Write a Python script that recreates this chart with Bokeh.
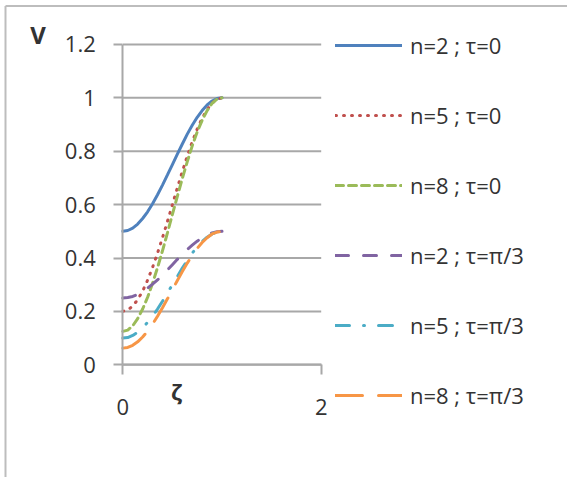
from bokeh.plotting import figure
from bokeh.models import Range1d, FixedTicker, Legend, LegendItem, Label
from bokeh.embed import file_html
from bokeh.resources import INLINE

zeta = [0.0, 0.05, 0.1, 0.15, 0.2, 0.25, 0.3, 0.35, 0.4, 0.45, 0.5,
        0.55, 0.6, 0.65, 0.7, 0.75, 0.8, 0.85, 0.9, 0.95, 1.0]

v_n2_t0 = [0.500, 0.503, 0.512, 0.527, 0.548, 0.573, 0.603, 0.637, 0.673, 0.711, 0.750,
           0.789, 0.827, 0.864, 0.897, 0.927, 0.952, 0.973, 0.988, 0.997, 1.000]
v_n5_t0 = [0.200, 0.205, 0.220, 0.244, 0.276, 0.317, 0.365, 0.418, 0.476, 0.537, 0.600,
           0.663, 0.724, 0.782, 0.835, 0.883, 0.924, 0.956, 0.980, 0.995, 1.000]
v_n8_t0 = [0.125, 0.130, 0.146, 0.173, 0.209, 0.253, 0.305, 0.364, 0.427, 0.494, 0.563,
           0.631, 0.698, 0.761, 0.820, 0.872, 0.916, 0.952, 0.979, 0.995, 1.000]
v_n2_t3 = [0.250, 0.252, 0.256, 0.264, 0.274, 0.287, 0.302, 0.318, 0.336, 0.355, 0.375,
           0.395, 0.414, 0.432, 0.448, 0.463, 0.476, 0.486, 0.494, 0.498, 0.500]
v_n5_t3 = [0.100, 0.102, 0.110, 0.122, 0.138, 0.159, 0.182, 0.209, 0.238, 0.269, 0.300,
           0.331, 0.362, 0.391, 0.418, 0.442, 0.462, 0.478, 0.490, 0.498, 0.500]
v_n8_t3 = [0.0625, 0.065, 0.073, 0.086, 0.104, 0.126, 0.152, 0.182, 0.214, 0.247, 0.281,
           0.316, 0.349, 0.381, 0.410, 0.436, 0.458, 0.476, 0.490, 0.497, 0.500]

series_labels = ["n=2 ; τ=0", "n=5 ; τ=0", "n=8 ; τ=0",
                 "n=2 ; τ=π/3", "n=5 ; τ=π/3", "n=8 ; τ=π/3"]
y_ticks = [0, 0.2, 0.4, 0.6, 0.8, 1, 1.2]
y_tick_labels = ["0", "0.2", "0.4", "0.6", "0.8", "1", "1.2"]
x_ticks = [0, 2]
x_tick_labels = ["0", "2"]
y_title = "V"
x_title = "ζ"

series = [v_n2_t0, v_n5_t0, v_n8_t0, v_n2_t3, v_n5_t3, v_n8_t3]
colors = ["#4F81BD", "#C0504D", "#9BBB59", "#8064A2", "#4BACC6", "#F79646"]
dashes = ["solid", "1 7", "8 5", "13 15", "14 14 1 14", "27 16"]

FONT = "Open Sans"
TXT = "#333333"
GRID = "#a8a8a8"
EDGE = "#bdbdbd"

W, H = 567, 477
X0, Y0 = 122.3, 364.3      # canvas position of the data origin
SX, SY = 99.2, 267.0       # pixels per data unit


def dx(px):
    return (px - X0) / SX


def dy(py):
    return (Y0 - py) / SY


p = figure(width=W, height=H, output_backend="svg", toolbar_location=None,
           x_range=Range1d(dx(0), dx(W)), y_range=Range1d(dy(H), dy(0)),
           min_border=0, min_border_left=0, min_border_right=0,
           min_border_top=0, min_border_bottom=0)
p.outline_line_color = None
p.background_fill_color = "white"
p.border_fill_color = "white"
p.xgrid.visible = False
p.ygrid.visible = False

# chart-area edge: left and top sides (the others run off the picture)
p.segment(x0=[dx(5), dx(5)], y0=[dy(5.5), dy(5.5)], x1=[dx(5), dx(W + 20)],
          y1=[dy(H + 20), dy(5.5)], line_color=EDGE, line_width=2)

# horizontal gridlines across the plot area only
p.segment(x0=[x_ticks[0]] * len(y_ticks), x1=[x_ticks[-1]] * len(y_ticks),
          y0=y_ticks, y1=y_ticks, line_color=GRID, line_width=2)

p.yaxis.ticker = FixedTicker(ticks=y_ticks)
p.yaxis.major_label_overrides = dict(zip(y_ticks, y_tick_labels))
p.yaxis.fixed_location = 0
p.yaxis.bounds = (0, 1.2)
p.xaxis.ticker = FixedTicker(ticks=x_ticks)
p.xaxis.major_label_overrides = dict(zip(x_ticks, x_tick_labels))
p.xaxis.fixed_location = 0
p.xaxis.bounds = (0, 2)
for ax in (p.xaxis, p.yaxis):
    ax.axis_line_color = GRID
    ax.axis_line_width = 2
    ax.major_tick_line_color = GRID
    ax.major_tick_line_width = 2
    ax.major_tick_in = 0
    ax.minor_tick_line_color = None
    ax.major_label_text_font = FONT
    ax.major_label_text_font_size = "22px"
    ax.major_label_text_color = TXT
p.yaxis.major_tick_out = 9
p.yaxis.major_label_standoff = 18
p.xaxis.major_tick_out = 10
p.xaxis.major_label_standoff = 24

items = []
for ys, c, d, lab in zip(series, colors, dashes, series_labels):
    r = p.line(zeta, ys, line_color=c, line_width=3, line_dash=d, line_cap="round")
    items.append(LegendItem(label=lab, renderers=[r]))

legend = Legend(items=items, location=(335, H - 31 - 380), orientation="vertical",
                glyph_width=67, glyph_height=32, label_height=32, spacing=38,
                label_standoff=8, padding=0, margin=0,
                border_line_alpha=0, background_fill_alpha=0,
                label_text_font=FONT, label_text_font_size="22px",
                label_text_color=TXT)
p.add_layout(legend, "center")

p.add_layout(Label(x=dx(37.5), y=dy(33.5), text=y_title, text_font=FONT,
                   text_font_style="bold", text_font_size="24px", text_color=TXT,
                   text_align="center", text_baseline="middle"))
p.add_layout(Label(x=dx(176), y=dy(390), text=x_title, text_font=FONT,
                   text_font_style="bold", text_font_size="22px", text_color=TXT,
                   text_align="center", text_baseline="middle"))

open("out.html", "w").write(file_html(p, INLINE))
